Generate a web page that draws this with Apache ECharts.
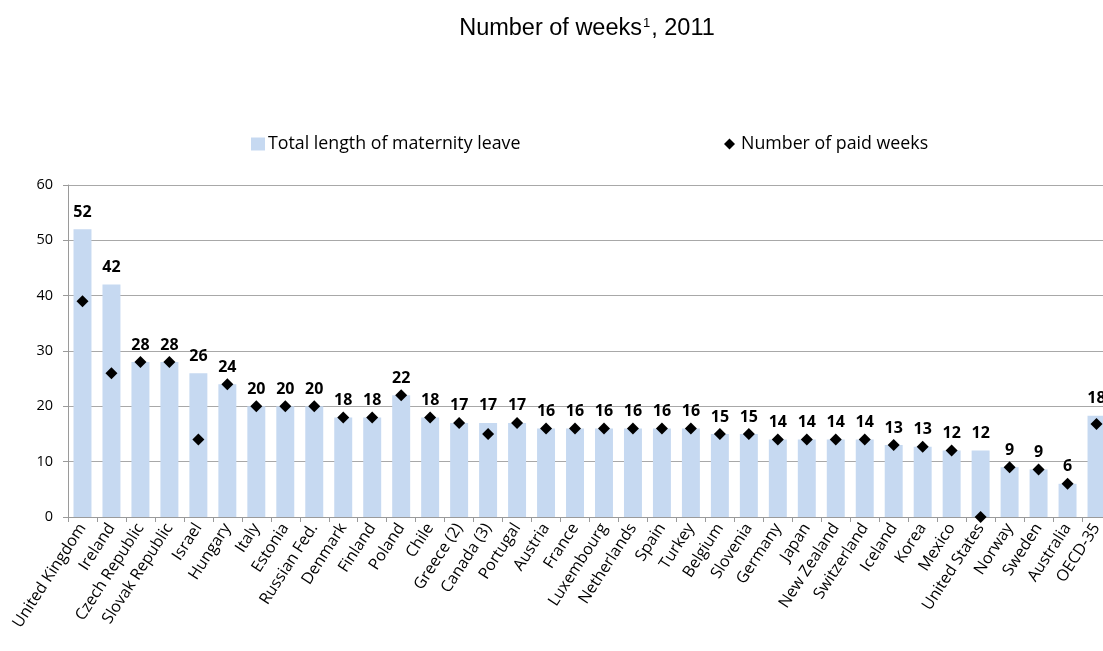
<!DOCTYPE html>
<html>
<head>
<meta charset="utf-8">
<script src="https://cdn.jsdelivr.net/npm/echarts@6/dist/echarts.min.js"></script>
<style>
  html, body { margin: 0; padding: 0; background: #fff; }
  #chart { width: 1103px; height: 651px; }
</style>
</head>
<body>
<div id="chart"></div>
<script>
// Maternity leave by country, weeks, 2011
const countries = [
  'United Kingdom', 'Ireland', 'Czech Republic', 'Slovak Republic', 'Israel', 'Hungary',
  'Italy', 'Estonia', 'Russian Fed.', 'Denmark', 'Finland', 'Poland', 'Chile',
  'Greece (2)', 'Canada (3)', 'Portugal', 'Austria', 'France', 'Luxembourg',
  'Netherlands', 'Spain', 'Turkey', 'Belgium', 'Slovenia', 'Germany', 'Japan',
  'New Zealand', 'Switzerland', 'Iceland', 'Korea', 'Mexico', 'United States',
  'Norway', 'Sweden', 'Australia', 'OECD-35'
];

// Total length of maternity leave (weeks)
const totalLeave = [
  52, 42, 28, 28, 26, 24,
  20, 20, 20, 18, 18, 22, 18,
  17, 17, 17, 16, 16, 16,
  16, 16, 16, 15, 15, 14, 14,
  14, 14, 13, 12.7, 12, 12,
  9, 8.6, 6, 18.3
];

// Number of paid weeks
const paidWeeks = [
  39, 26, 28, 28, 14, 24,
  20, 20, 20, 18, 18, 22, 18,
  17, 15, 17, 16, 16, 16,
  16, 16, 16, 15, 15, 14, 14,
  14, 14, 13, 12.7, 12, 0,
  9, 8.6, 6, 16.8
];

const yTicks = { min: 0, max: 60, step: 10 };

const SANS = '"Open Sans", "Noto Sans", sans-serif';
const ARIAL = '"Liberation Sans", Arial, sans-serif';
const chart = echarts.init(document.getElementById('chart'), null, { renderer: 'canvas' });

chart.setOption({
  backgroundColor: '#ffffff',
  animation: false,
  title: {
    text: '{a|Number of weeks}{s|1}{a|, 2011}',
    left: 582,
    textAlign: 'center',
    top: 12,
    textStyle: {
      fontWeight: 'normal',
      rich: {
        a: { fontFamily: ARIAL, fontSize: 23.5, fontWeight: 'normal', color: '#000' },
        s: { fontFamily: ARIAL, fontSize: 13, fontWeight: 'normal', color: '#000', padding: [0, 1, 11, 1] }
      }
    }
  },
  legend: [
    {
      data: [{ name: 'Total length of maternity leave', icon: 'rect' }],
      left: 246,
      top: 130,
      itemWidth: 14,
      itemHeight: 13,
      textStyle: { fontFamily: SANS, fontSize: 17.8, color: '#000', padding: [0, 0, 0, -2] }
    },
    {
      data: [{ name: 'Number of paid weeks', icon: 'diamond' }],
      left: 719,
      top: 130,
      itemWidth: 11,
      itemHeight: 11,
      textStyle: { fontFamily: SANS, fontSize: 17.8, color: '#000', padding: [0, 0, 0, 1] }
    }
  ],
  // the last category runs past the right edge of the page
  grid: { left: 68, width: 1043, top: 185, bottom: 134, containLabel: false, outerBoundsMode: 'none' },
  xAxis: {
    type: 'category',
    data: countries,
    boundaryGap: true,
    axisLine: { show: true, lineStyle: { color: '#9a9a9a', width: 1 } },
    axisTick: { show: true, alignWithLabel: false, length: 5, lineStyle: { color: '#9a9a9a' } },
    axisLabel: {
      interval: 0,
      rotate: 57,
      margin: 8,
      fontFamily: SANS,
      fontSize: 16,
      color: '#000'
    },
    splitLine: { show: false }
  },
  yAxis: {
    type: 'value',
    min: yTicks.min,
    max: yTicks.max,
    interval: yTicks.step,
    axisLine: { show: true, lineStyle: { color: '#9a9a9a' } },
    axisTick: { show: true, length: 5, lineStyle: { color: '#9a9a9a' } },
    axisLabel: { fontFamily: SANS, fontSize: 14.5, color: '#000', margin: 15 },
    splitLine: { show: true, lineStyle: { color: '#a8a8a8', width: 1 } }
  },
  series: [
    {
      name: 'Total length of maternity leave',
      type: 'bar',
      data: totalLeave,
      barWidth: '62%',
      itemStyle: { color: '#C6D9F1' },
      label: {
        show: true,
        position: 'top',
        distance: 9,
        fontFamily: SANS,
        fontWeight: 'bold',
        fontSize: 16,
        color: '#000',
        formatter: p => Math.round(p.value)
      },
      z: 2
    },
    {
      name: 'Number of paid weeks',
      type: 'scatter',
      data: paidWeeks,
      symbol: 'diamond',
      symbolSize: 12,
      itemStyle: { color: '#000', opacity: 1 },
      clip: false,
      z: 5
    }
  ]
});
</script>
</body>
</html>
